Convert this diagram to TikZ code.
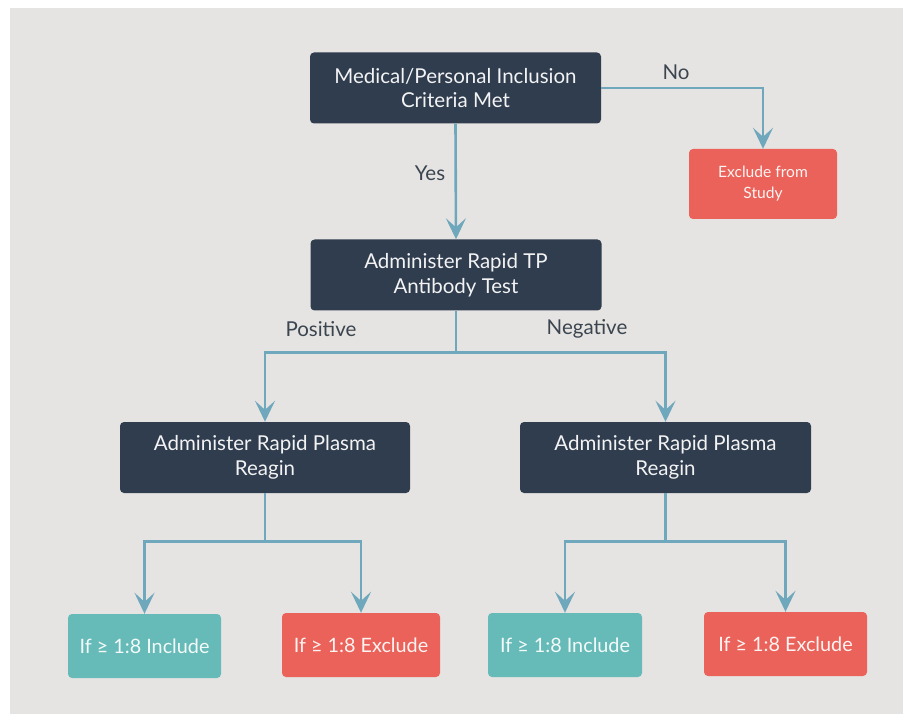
\documentclass[tikz,border=0pt]{standalone}
\usepackage{fontspec}
\setmainfont{Lato}
\usetikzlibrary{arrows.meta}
\definecolor{bggrey}{HTML}{E6E4E2}
\definecolor{navy}{HTML}{2F3D4E}
\definecolor{coral}{HTML}{EA6259}
\definecolor{teal}{HTML}{66BBB8}
\definecolor{steel}{HTML}{6FA8BC}
\definecolor{ink}{HTML}{3A4550}
\begin{document}
\begin{tikzpicture}[x=1pt,y=-1pt,
    box/.style={anchor=center,rounded corners=4pt,align=center,inner sep=0pt,text=white!94!navy,font=\fontsize{20.5}{24.5}\selectfont},
    navybox/.style={box,fill=navy,minimum width=291pt,minimum height=71pt},
    coralbox/.style={box,fill=coral,text=white!92!coral,font=\fontsize{19.8}{24}\selectfont},
    tealbox/.style={box,fill=teal,text=white!92!teal,font=\fontsize{19.8}{24}\selectfont},
    link/.style={steel,line width=2.6pt,-{Stealth[length=21pt,width=20pt,inset=9pt]}},
    lbl/.style={text=ink,font=\fontsize{20.5}{24}\selectfont}]
                \fill[white] (0,0) rectangle (903,714);
                \fill[bggrey] (10,8) rectangle (903,714);
                %% decision boxes
                \node[navybox] (crit) at (455.5,88) {Medical/Personal Inclusion\\Criteria Met};
                \node[navybox] (tp) at (456,275) {Administer Rapid TP\\Antibody Test};
                \node[navybox,minimum width=290pt] (rprL) at (265,457.5) {Administer Rapid Plasma\\Reagin};
                \node[navybox] (rprR) at (665.5,457.5) {Administer Rapid Plasma\\Reagin};
                %% outcomes
                \node[coralbox,minimum width=148pt,minimum height=70pt,font=\fontsize{15.6}{21}\selectfont] (study) at (763,184) {Exclude from\\Study};
                \node[tealbox,minimum width=153pt,minimum height=64pt] (incL) at (144.5,646) {If ≥ 1:8 Include};
                \node[coralbox,minimum width=158pt,minimum height=64pt] (excL) at (361,645) {If ≥ 1:8 Exclude};
                \node[tealbox,minimum width=154pt,minimum height=64pt] (incR) at (565,645) {If ≥ 1:8 Include};
                \node[coralbox,minimum width=163pt,minimum height=64pt] (excR) at (785.5,644) {If ≥ 1:8 Exclude};
                %% connectors
                \draw[link] (crit.south) -- (tp.north);
                \draw[link] (crit.east) -| (study.north);
                \draw[link] (tp.south) -- ++(0,42) -| (rprL.north);
                \draw[link] (tp.south) -- ++(0,42) -| (rprR.north);
                \draw[link] (rprL.south) -- ++(0,48) -| (incL.north);
                \draw[link] (rprL.south) -- ++(0,48) -| (excL.north);
                \draw[link] (rprR.south) -- ++(0,48) -| (incR.north);
                \draw[link] (rprR.south) -- ++(0,48) -| (excR.north);
                %% labels
                \node[lbl] (yes) at (430,173) {Yes};
                \node[lbl] (no) at (676,72) {No};
                \node[lbl] (pos) at (321,329) {Positive};
                \node[lbl] (neg) at (587,329) {Negative};
\end{tikzpicture}
\end{document}
